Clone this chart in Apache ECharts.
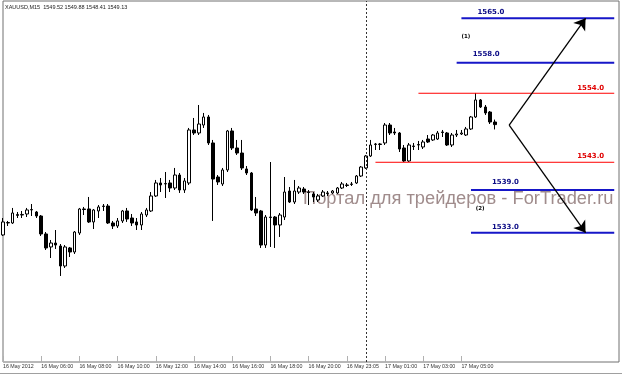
<!DOCTYPE html>
<html><head><meta charset="utf-8">
<script src="https://cdn.jsdelivr.net/npm/echarts@6/dist/echarts.min.js"></script>
<style>html,body{margin:0;padding:0;background:#fff}#c{width:622px;height:378px}</style>
</head><body><div id="c"></div>
<script>
const symbolName = 'XAUUSD,M15';
const watermark = 'Портал для трейдеров - ForTrader.ru';
const tickLabels = ['16 May 2012','16 May 06:00','16 May 08:00','16 May 10:00','16 May 12:00','16 May 14:00','16 May 16:00','16 May 18:00','16 May 20:00','16 May 23:05','17 May 01:00','17 May 03:00','17 May 05:00'];
const barsPerTick = 8;
const totalSlots = 130;
const dayBreakBar = 76;

const opens = [1532.66,1534.45,1534.45,1535.57,1535.64,1535.79,1536.39,1536.09,1535.49,1532.81,
1530.87,1531.46,1531.01,1528.03,1530.72,1530.12,1532.95,1536.54,1536.54,1534.60,
1536.24,1536.91,1536.98,1534.45,1534.00,1534.75,1536.24,1535.19,1534.60,1534.15,
1535.64,1536.24,1538.48,1540.42,1540.27,1540.42,1539.67,1541.61,1539.37,1540.42,
1548.33,1547.88,1549.07,1550.27,1546.39,1541.31,1540.27,1542.36,1548.18,1545.64,
1544.89,1542.51,1541.91,1536.54,1536.24,1531.16,1535.34,1535.34,1534.15,1535.34,
1539.22,1537.58,1539.07,1539.52,1539.07,1538.78,1537.88,1538.48,1538.93,1538.93,
1538.93,1539.67,1540.12,1540.20,1540.42,1541.46,1542.66,1544.45,1546.16,1546.16,
1546.39,1549.07,1548.03,1547.88,1545.64,1543.70,1545.94,1546.09,1545.79,1546.98,
1546.84,1546.98,1548.03,1547.88,1546.09,1547.58,1547.73,1547.58,1548.48,1550.27,
1552.81,1551.76,1551.01,1549.52];
const closes = [1534.60,1534.52,1535.94,1535.72,1535.72,1536.39,1536.46,1535.49,1532.81,1530.72,
1531.46,1531.16,1528.03,1530.87,1530.12,1533.10,1536.54,1536.46,1534.60,1536.39,
1536.84,1536.98,1534.45,1534.00,1534.75,1536.24,1535.04,1534.45,1534.15,1535.79,
1536.39,1538.48,1540.42,1540.12,1540.34,1539.67,1541.61,1539.37,1540.72,1548.33,
1547.88,1549.22,1550.27,1546.39,1541.01,1540.57,1542.36,1548.18,1545.64,1544.89,
1542.66,1541.91,1536.39,1535.94,1531.16,1535.34,1535.27,1534.15,1535.64,1539.07,
1537.58,1539.22,1539.67,1539.07,1539.00,1538.33,1538.48,1539.07,1538.85,1539.22,
1539.67,1540.27,1540.05,1540.27,1541.46,1542.80,1544.45,1546.09,1546.24,1546.24,
1549.07,1547.88,1547.88,1545.49,1543.70,1546.09,1545.87,1546.16,1546.54,1546.54,
1547.58,1547.88,1547.96,1546.09,1547.58,1547.73,1547.88,1548.48,1550.27,1552.81,
1551.76,1550.87,1549.52,1549.13];
const lows = [1532.51,1534.00,1534.30,1535.19,1535.19,1535.34,1535.49,1535.19,1532.51,1530.42,
1529.22,1530.57,1526.54,1527.73,1529.37,1529.82,1532.66,1535.64,1534.45,1533.55,
1535.19,1536.24,1534.30,1533.55,1533.70,1534.45,1534.60,1534.00,1533.40,1533.40,
1535.34,1536.09,1538.33,1539.07,1538.18,1539.07,1539.37,1538.93,1538.93,1540.12,
1547.58,1547.58,1548.63,1546.09,1534.75,1540.12,1539.97,1542.06,1545.34,1544.60,
1542.36,1541.61,1536.24,1535.49,1530.72,1530.72,1530.87,1530.72,1532.36,1534.89,
1537.43,1537.28,1538.78,1538.78,1537.13,1537.58,1537.58,1538.33,1538.48,1538.78,
1538.78,1539.52,1539.82,1539.97,1540.27,1541.31,1542.51,1544.30,1545.34,1545.34,
1546.09,1547.58,1547.58,1545.04,1543.55,1543.55,1545.34,1545.34,1545.49,1546.39,
1546.69,1546.84,1547.28,1545.94,1545.79,1547.28,1547.58,1547.43,1548.33,1550.12,
1551.61,1550.57,1549.22,1548.41];
const highs = [1535.19,1534.75,1536.69,1536.09,1536.24,1536.69,1537.28,1536.24,1535.64,1533.10,
1531.91,1533.40,1531.31,1531.16,1530.87,1533.25,1536.69,1536.84,1538.33,1536.54,
1537.13,1537.28,1537.28,1534.75,1535.19,1536.39,1536.69,1535.79,1535.19,1536.09,
1536.69,1539.07,1540.87,1541.16,1542.06,1540.87,1542.66,1541.91,1541.16,1548.63,
1550.12,1552.06,1550.87,1550.57,1546.84,1541.61,1542.66,1548.33,1548.63,1546.84,
1546.84,1542.95,1542.06,1538.33,1536.39,1535.64,1543.55,1535.49,1535.94,1541.31,
1539.82,1540.87,1539.97,1539.82,1539.37,1539.07,1538.78,1539.37,1539.22,1539.37,
1539.82,1540.57,1540.42,1540.57,1541.61,1542.95,1544.60,1546.84,1546.39,1546.39,
1549.37,1549.37,1548.63,1548.03,1546.09,1546.39,1546.39,1546.69,1546.84,1547.58,
1547.73,1548.18,1548.33,1548.03,1547.88,1548.33,1548.33,1548.78,1550.42,1553.85,
1552.95,1552.06,1551.16,1549.88];

// horizontal levels drawn on the chart
const levelPrices = [1565.0, 1558.37, 1553.81, 1543.51, 1539.37, 1533.0];
const levelLabels = ['1565.0','1558.0','1554.0','1543.0','1539.0','1533.0'];
const levelStartBars = [96, 95, 87, 78, 98, 98];
const levelKinds = ['target','target','pivot','pivot','target','target'];
const levelEndBar = 128;

// scenario arrows
const arrowStartBar = 106;
const arrowStartPrice = 1549.07;
const arrowEndBar = 122;
const arrowTargets = [1565.0, 1533.0];

// scenario notes
const noteTexts = ['(1)', '(2)'];
const noteBars = [96, 99];
const notePrices = [1562.2, 1536.6];

// ---- build options ----
const categories = [];
for (let i = 0; i < totalSlots; i++) categories.push(String(i));
const candles = opens.map((o, i) => [o, closes[i], lows[i], highs[i]]);
const last = opens.length - 1;
const header = symbolName + '  ' + [opens[last], highs[last], lows[last], closes[last]].map(v => v.toFixed(2)).join(' ');

const showTick = (idx) => idx % barsPerTick === 0 && idx / barsPerTick < tickLabels.length;

const kindStyle = {
  target: { line: '#1616c8', text: '#0c0c86', width: 2 },
  pivot: { line: '#ff0000', text: '#e00000', width: 1 }
};
const labelDx = [16, 16, 10, 10, 21, 21];
const labelDy = [3, 5, 2, 3, 4, 2];

const levelSeries = levelPrices.map((p, i) => {
  const st = kindStyle[levelKinds[i]];
  const isTarget = levelKinds[i] === 'target';
  const anchorBar = isTarget ? levelStartBars[i] : levelEndBar;
  return {
    type: 'line', name: 'level' + i, z: 4, silent: true,
    symbol: 'none', showSymbol: false,
    lineStyle: { color: st.line, width: st.width, type: 'solid' },
    emphasis: { disabled: true },
    data: [[levelStartBars[i], p], [levelEndBar, p]],
    markPoint: {
      silent: true, symbol: 'circle', symbolSize: 0, animation: false,
      data: [{
        coord: [anchorBar, p],
        label: {
          show: true, formatter: levelLabels[i], color: st.text, fontSize: 7, fontWeight: 'bold',
          fontFamily: 'DejaVu Sans', verticalAlign: 'bottom',
          align: isTarget ? 'left' : 'right',
          position: [isTarget ? labelDx[i] : -labelDx[i], -labelDy[i]]
        }
      }]
    }
  };
});

const arrowLines = arrowTargets.map(t => [
  { coord: [arrowStartBar, arrowStartPrice] },
  { coord: [arrowEndBar, t] }
]);

const option = {
  animation: false,
  backgroundColor: '#ffffff',
  grid: { left: 2, right: 3, top: 1, bottom: 16, show: true, borderColor: '#707070', borderWidth: 1, backgroundColor: 'transparent' },
  xAxis: {
    type: 'category', data: categories, boundaryGap: false,
    axisLine: { show: false },
    axisTick: { show: true, inside: true, length: 6, interval: showTick, lineStyle: { color: '#b0b0b0' } },
    axisLabel: {
      show: true, interval: showTick, align: 'left', margin: 2, verticalAlign: 'top',
      fontSize: 5.3, fontFamily: 'Liberation Sans', color: '#333',
      formatter: (v, idx) => tickLabels[idx / barsPerTick] || ''
    },
    splitLine: { show: false }
  },
  yAxis: {
    type: 'value', min: 1513.70, max: 1567.58, show: false, splitLine: { show: false }
  },
  graphic: [
    { type: 'text', left: 303, top: 190, z: 0, silent: true,
      style: { text: watermark, fontSize: 18.3, fontFamily: 'Liberation Sans', fill: 'rgba(150,128,128,0.9)' } },
    { type: 'text', left: 5, top: 4, z: 10, silent: true,
      style: { text: header, fontSize: 5.5, fontFamily: 'Liberation Sans', fill: '#222' } },
    { type: 'line', z: 10, silent: true, shape: { x1: 0, y1: 373.5, x2: 622, y2: 373.5 }, style: { stroke: '#a0a0a0', lineWidth: 1 } }
  ],
  series: [
    {
      type: 'candlestick', name: 'XAUUSD', data: candles, barWidth: 3, z: 3,
      itemStyle: { color: '#ffffff', color0: '#000000', borderColor: '#000000', borderColor0: '#000000', borderWidth: 1 },
      emphasis: { disabled: true },
      markLine: {
        silent: true, symbol: ['none', 'none'], animation: false,
        label: { show: false },
        lineStyle: { color: '#333', width: 1, type: [2, 2] },
        data: [[{ coord: [dayBreakBar, 1513.70] }, { coord: [dayBreakBar, 1567.58] }]]
      },
      markPoint: {
        silent: true, symbol: 'circle', symbolSize: 0, animation: false,
        label: { show: true, position: 'right', distance: 0, fontSize: 5.5, fontWeight: 'bold', color: '#000', fontFamily: 'DejaVu Sans' },
        data: noteTexts.map((t, i) => ({ coord: [noteBars[i], notePrices[i]], label: { formatter: t } }))
      }
    },
    ...levelSeries,
    {
      type: 'line', name: 'scenario', data: [], z: 5,
      markLine: {
        silent: true, symbol: ['none', 'arrow'], symbolSize: 11, animation: false,
        label: { show: false },
        lineStyle: { color: '#000', width: 1.3, type: 'solid' },
        data: arrowLines
      }
    }
  ]
};

const chart = echarts.init(document.getElementById('c'), null, { renderer: 'canvas' });
chart.setOption(option);
</script>
</body></html>
